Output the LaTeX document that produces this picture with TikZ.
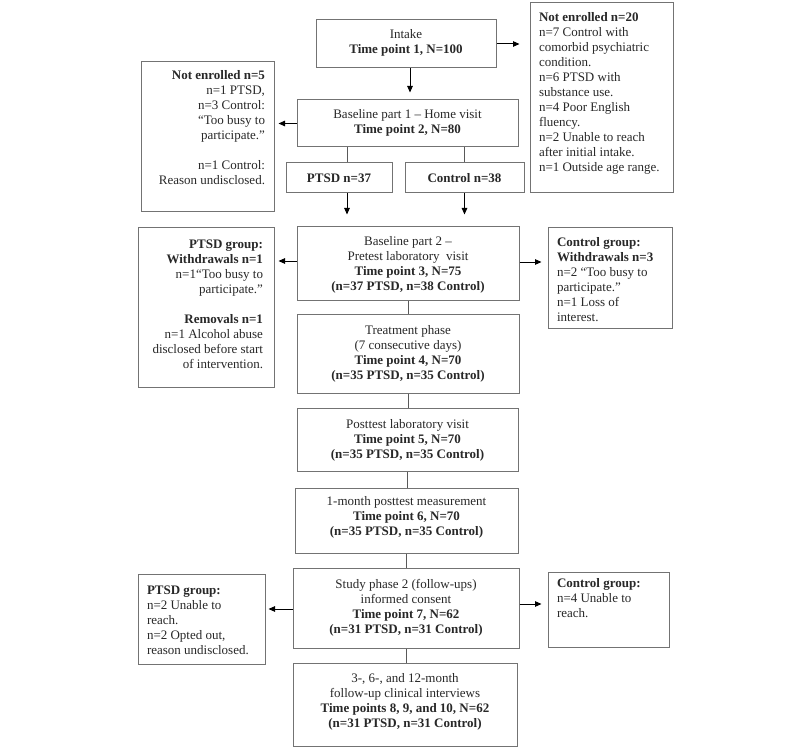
\documentclass[tikz,border=0pt]{standalone}
\usepackage{fontspec}
\setmainfont{Liberation Serif}
\usetikzlibrary{arrows.meta}
\definecolor{boxgray}{RGB}{115,115,115}
\definecolor{txtgray}{RGB}{40,40,40}
\newcommand{\bxc}[4]{\parbox[c][#2pt][t]{#1pt}{\fontsize{13}{15}\selectfont\vspace*{#3pt}\vspace*{2pt}#4}}
\tikzset{
  box/.style={draw=boxgray, line width=1pt, inner sep=0pt, fill=white, text=txtgray},
  arr/.style={draw=black, line width=1pt, -{Triangle[length=6.5pt,width=5.5pt]}},
  ln/.style={draw=black!65, line width=1pt}
}
\begin{document}
\begin{tikzpicture}[x=1pt,y=-1pt]
\useasboundingbox (0,0) rectangle (800,754);
\fill[white] (0,0) rectangle (800,754);

\node[box] (intake) at (406,44) {\bxc{180}{48}{6.5}{\centering\strut Intake\\ \textbf{Time point 1, N=100}}};

\node[box] (n20) at (601.5,98) {\bxc{143}{190}{6.5}{\raggedright\leftskip=9pt\strut\textbf{Not enrolled n=20}\\ n=7 Control with\\ comorbid psychiatric\\ condition.\\ n=6 PTSD with\\ substance use.\\ n=4 Poor English\\ fluency.\\ n=2 Unable to reach\\ after initial intake.\\ n=1 Outside age range.}};

\node[box] (b1) at (407.5,123.5) {\bxc{221}{47}{6.5}{\centering\strut Baseline part 1 -- Home visit\\ \textbf{Time point 2, N=80}}};

\node[box] (n5) at (207.5,136.5) {\bxc{133}{149}{5.5}{\raggedleft\rightskip=9pt\strut\textbf{Not enrolled n=5}\\ n=1 PTSD,\\ n=3 Control:\\ “Too busy to\\ participate.”\\[15pt] n=1 Control:\\ Reason undisclosed.}};

\node[box] (ptsd) at (339,178) {\bxc{106}{30}{7.5}{\centering\strut\textbf{PTSD n=37}}};
\node[box] (ctrl) at (464.5,178) {\bxc{119}{30}{7.5}{\centering\strut\textbf{Control n=38}}};

\node[box] (b2) at (408,263) {\bxc{222}{74}{6.5}{\centering\strut Baseline part 2 --\\ Pretest laboratory\ \ visit\\ \textbf{Time point 3, N=75}\\ \textbf{(n=37 PTSD, n=38 Control)}}};

\node[box] (pg1) at (206,307) {\bxc{136}{160}{8.5}{\raggedleft\rightskip=11pt\strut\textbf{PTSD group:}\\ \textbf{Withdrawals n=1}\\ n=1“Too busy to\\ participate.”\\[15pt] \textbf{Removals n=1}\\ n=1 Alcohol abuse\\ disclosed before start\\ of intervention.}};

\node[box] (cg1) at (610,277.5) {\bxc{124}{101}{6.5}{\raggedright\leftskip=9pt\strut\textbf{Control group:}\\ \textbf{Withdrawals n=3}\\ n=2 “Too busy to\\ participate.”\\ n=1 Loss of\\ interest.}};

\node[box] (treat) at (408,353.5) {\bxc{222}{79}{7.5}{\centering\strut Treatment phase\\ (7 consecutive days)\\ \textbf{Time point 4, N=70}\\ \textbf{(n=35 PTSD, n=35 Control)}}};

\node[box] (post) at (407.5,439.5) {\bxc{221}{63}{7.5}{\centering\strut Posttest laboratory visit\\ \textbf{Time point 5, N=70}\\ \textbf{(n=35 PTSD, n=35 Control)}}};

\node[box] (month) at (406.5,520.5) {\bxc{223}{65}{4.5}{\centering\strut 1-month posttest measurement\\ \textbf{Time point 6, N=70}\\ \textbf{(n=35 PTSD, n=35 Control)}}};

\node[box] (study) at (406,608) {\bxc{226}{80}{8}{\centering\strut Study phase 2 (follow-ups)\\ informed consent\\ \textbf{Time point 7, N=62}\\ \textbf{(n=31 PTSD, n=31 Control)}}};

\node[box] (pg2) at (201.5,619) {\bxc{127}{90}{7.5}{\raggedright\leftskip=9pt\strut\textbf{PTSD group:}\\ n=2 Unable to\\ reach.\\ n=2 Opted out,\\ reason undisclosed.}};

\node[box] (cg2) at (608.5,609.5) {\bxc{121}{75}{3}{\raggedright\leftskip=9pt\strut\textbf{Control group:}\\ n=4 Unable to\\ reach.}};

\node[box] (final) at (405,704.5) {\bxc{224}{83}{6.5}{\centering\strut 3-, 6-, and 12-month\\ follow-up clinical interviews\\ \textbf{Time points 8, 9, and 10, N=62}\\ \textbf{(n=31 PTSD, n=31 Control)}}};

% connectors
\draw[arr, shorten >=10pt] (intake.east) -- (intake.east -| n20.west);
\coordinate (ia) at ([xshift=4pt]intake.south);
\draw[arr, shorten >=7pt] (ia) -- (ia |- b1.north);
\draw[arr, shorten >=4pt] (b1.west) -- (b1.west -| n5.east);

\coordinate (pa) at ([xshift=8pt]ptsd.north);
\coordinate (pb) at ([xshift=8pt]ptsd.south);
\draw[ln] (pa |- b1.south) -- (pa);
\draw[ln] (ctrl.north |- b1.south) -- (ctrl.north);
\draw[arr, shorten >=11pt] (pb) -- (pb |- b2.north);
\draw[arr, shorten >=11pt] (ctrl.south) -- (ctrl.south |- b2.north);

\coordinate (bl) at ([yshift=2pt]b2.west);
\coordinate (br) at ([yshift=1pt]b2.east);
\draw[arr, shorten >=4pt] (bl) -- (bl -| pg1.east);
\draw[arr, shorten >=6pt] (br) -- (br -| cg1.west);

\draw[ln] (b2.south) -- (b2.south |- treat.north);
\draw[ln] (treat.south) -- (treat.south |- post.north);
\draw[ln] (post.south) -- (post.south |- month.north);
\draw[ln] (month.south) -- (month.south |- study.north);
\draw[ln] (study.south) -- (study.south |- final.north);

\coordinate (sl) at ([yshift=-1pt]study.west);
\coordinate (sr) at ([yshift=4pt]study.east);
\draw[arr, shorten >=3pt] (sl) -- (sl -| pg2.east);
\draw[arr, shorten >=6pt] (sr) -- (sr -| cg2.west);
\end{tikzpicture}
\end{document}
